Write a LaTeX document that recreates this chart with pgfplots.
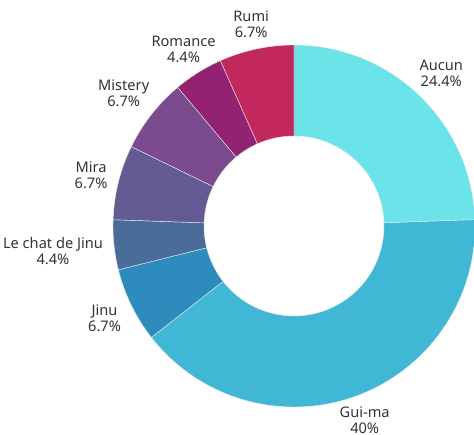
\documentclass[border=0pt]{standalone}
\usepackage{fontspec}
\setmainfont{Noto Sans}
\usepackage{pgfplots}
\usepackage{pgfplotstable}
\pgfplotsset{compat=1.18}
\definecolor{cAucun}{HTML}{6AE4E8}
\definecolor{cGuima}{HTML}{41B7D6}
\definecolor{cJinu}{HTML}{2E8BBD}
\definecolor{cChat}{HTML}{4A6C9B}
\definecolor{cMira}{HTML}{645A94}
\definecolor{cMistery}{HTML}{7C4A8E}
\definecolor{cRomance}{HTML}{932273}
\definecolor{cRumi}{HTML}{C2285E}
\definecolor{textc}{HTML}{333333}
\pgfplotstableread[col sep=comma]{
label,count,pct,color
Aucun,11,24.4,cAucun
Gui-ma,18,40,cGuima
Jinu,3,6.7,cJinu
Le chat de Jinu,2,4.4,cChat
Mira,3,6.7,cMira
Mistery,3,6.7,cMistery
Romance,2,4.4,cRomance
Rumi,3,6.7,cRumi
}\data
\begin{document}
\begin{tikzpicture}
\begin{axis}[hide axis, x=1pt, y=1pt, xmin=0, xmax=474, ymin=0, ymax=434,
  clip=false, scale only axis]
\coordinate (ll) at (axis cs:0,0);
\coordinate (ur) at (axis cs:474,434);
\def\cum{0}
\pgfplotsforeachungrouped \i in {0,...,7}{%
  \pgfplotstablegetelem{\i}{count}\of\data \let\cnt\pgfplotsretval
  \pgfplotstablegetelem{\i}{label}\of\data \let\lab\pgfplotsretval
  \pgfplotstablegetelem{\i}{pct}\of\data \let\pct\pgfplotsretval
  \pgfplotstablegetelem{\i}{color}\of\data \let\col\pgfplotsretval
  \pgfmathsetmacro{\aS}{90-\cum*8}%
  \pgfmathsetmacro{\aE}{\aS-\cnt*8}%
  \pgfmathsetmacro{\aM}{(\aS+\aE)/2}%
  \pgfmathsetmacro{\anc}{mod(\aM+180+720,360)}%
  \pgfmathsetmacro{\xo}{294+181*cos(\aS)}%
  \pgfmathsetmacro{\yo}{208+181*sin(\aS)}%
  \pgfmathsetmacro{\xi}{294+90*cos(\aE)}%
  \pgfmathsetmacro{\yi}{208+90*sin(\aE)}%
  \pgfmathsetmacro{\xl}{294+189*cos(\aM)}%
  \pgfmathsetmacro{\yl}{208+189*sin(\aM)}%
  \edef\cmd{\noexpand\fill[\col, draw=white!85!gray, line width=0.4pt]
    (axis cs:\xo,\yo) arc[start angle=\aS, end angle=\aE, radius=181pt]
    -- (axis cs:\xi,\yi) arc[start angle=\aE, end angle=\aS, radius=90pt] -- cycle;
    \noexpand\node[anchor=\anc, align=center, inner sep=3pt, text=textc,
      font=\noexpand\fontsize{14.6}{16}\noexpand\selectfont]
      at (axis cs:\xl,\yl) {\lab\noexpand\\\pct\noexpand\%};}%
  \cmd
  \pgfmathsetmacro{\cum}{\cum+\cnt}%
}
\end{axis}
\pgfresetboundingbox
\useasboundingbox (ll) rectangle (ur);
\end{tikzpicture}
\end{document}
